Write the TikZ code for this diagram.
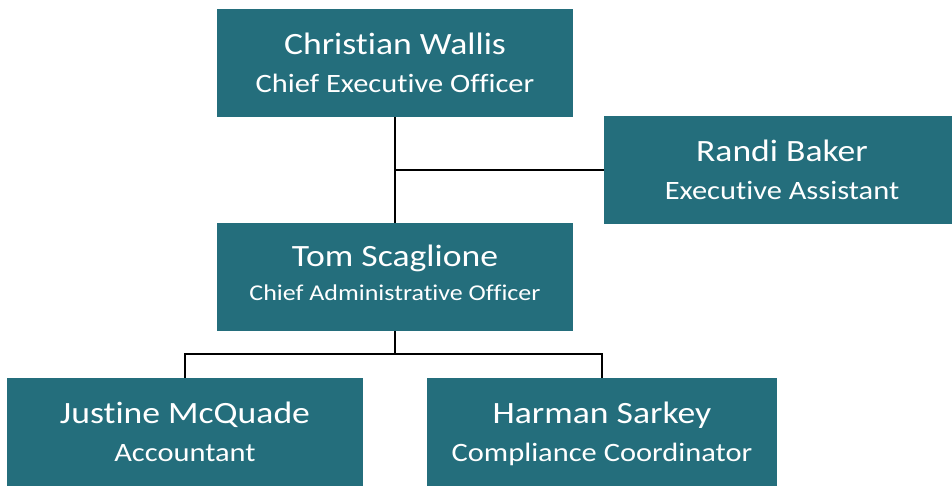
\documentclass[tikz,border=0pt]{standalone}
\usepackage{fontspec}
\setmainfont{Carlito}[FakeStretch=1.15, Ligatures=NoCommon]
\definecolor{teal}{HTML}{246E7C}
\tikzset{
  person/.style={fill=teal, draw=none, minimum width=356pt, minimum height=108pt, inner sep=0pt},
  pname/.style={anchor=base, text=white, inner sep=0pt, font=\fontsize{31}{36}\selectfont},
  ptitle/.style={anchor=base, text=white, inner sep=0pt, font=\fontsize{26.5}{30}\selectfont},
  link/.style={line width=1.5pt, black}
}
\begin{document}
\begin{tikzpicture}[x=1pt, y=1pt]
  \useasboundingbox (0,0) rectangle (952,486);
  % boxes
  \node[person] (ceo)  at (395,423) {};
  \node[person] (asst) at (782,316) {};
  \node[person] (cao)  at (395,209) {};
  \node[person] (acct) at (185,54) {};
  \node[person, minimum width=350pt] (comp) at (602,54) {};
  % names and titles
  \node[pname]  (ceo-n)  at ([yshift=-46pt]ceo.north)  {Christian Wallis};
  \node[ptitle] (ceo-t)  at ([yshift=-84pt]ceo.north)  {Chief Executive Officer};
  \node[pname]  (asst-n) at ([yshift=-46pt]asst.north) {Randi Baker};
  \node[ptitle] (asst-t) at ([yshift=-84pt]asst.north) {Executive Assistant};
  \node[pname]  (cao-n)  at ([yshift=-44pt]cao.north)  {Tom Scaglione};
  \node[ptitle, font=\fontsize{22.6}{26}\selectfont] (cao-t) at ([yshift=-78pt]cao.north) {Chief Administrative Officer};
  \node[pname]  (acct-n) at ([yshift=-46pt]acct.north) {Justine McQuade};
  \node[ptitle] (acct-t) at ([yshift=-84pt]acct.north) {Accountant};
  \node[pname]  (comp-n) at ([yshift=-46pt]comp.north) {Harman Sarkey};
  \node[ptitle] (comp-t) at ([yshift=-84pt]comp.north) {Compliance Coordinator};
  % connectors
  \coordinate (tee) at (395,316);
  \coordinate (bus) at (395,132);
  \draw[link] (ceo.south) -- (cao.north);
  \draw[link] (asst.west) -- (tee);
  \draw[link] (cao.south) -- (bus);
  \draw[link] (acct.north) |- (bus) -| (comp.north);
\end{tikzpicture}
\end{document}
